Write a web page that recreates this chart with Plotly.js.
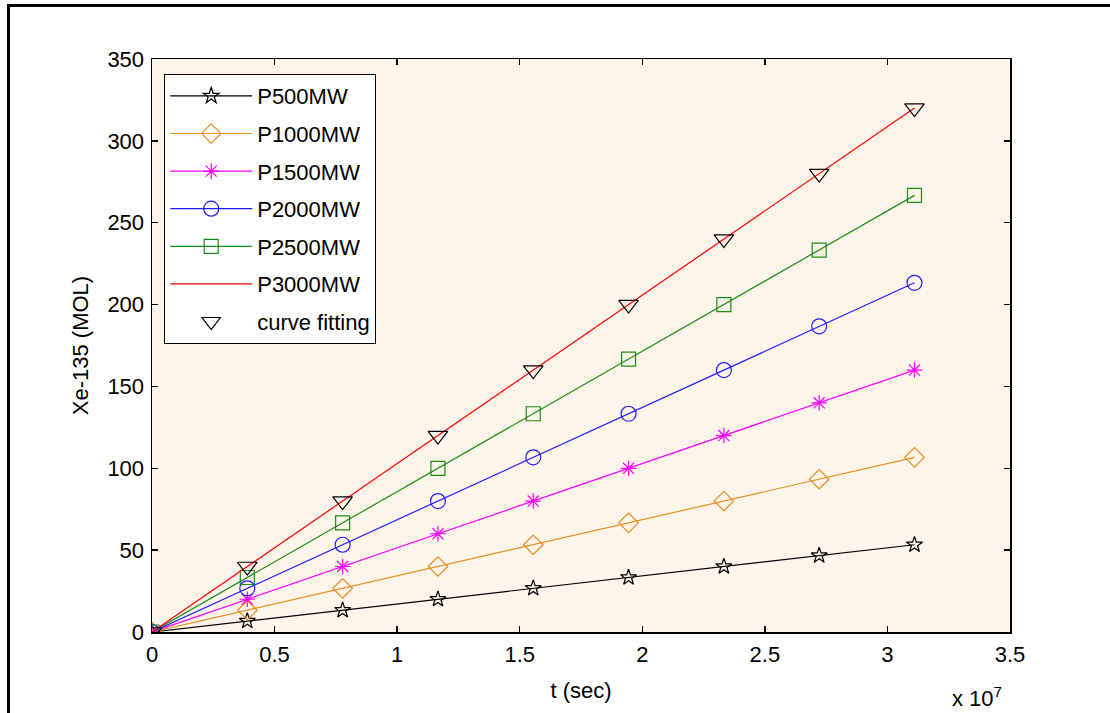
<!DOCTYPE html>
<html>
<head>
<meta charset="utf-8">
<script src="https://cdn.plot.ly/plotly-3.0.1.min.js"></script>
<style>
  html, body { margin: 0; padding: 0; background: #fff; }
  #chart { width: 1110px; height: 713px; position: relative; }
  #frame { position: absolute; left: 7px; top: 4px; width: 1200px; height: 800px; border: 3px solid #000; pointer-events: none; }
  #wrap { position: relative; width: 1110px; height: 713px; overflow: hidden; }
</style>
</head>
<body>
<div id="wrap">
  <div id="chart"></div>
  <div id="frame"></div>
</div>
<script>
// time points in seconds (every 45 days)
const tSec = [0, 3888000, 7776000, 11664000, 15552000, 19440000, 23328000, 27216000, 31104000];
const p500  = [0, 6.7, 13.3, 20.0, 26.7, 33.3, 40.0, 46.7, 53.3];
const p1000 = [0, 13.3, 26.7, 40.0, 53.3, 66.7, 80.0, 93.3, 106.7];
const p1500 = [0, 20.0, 40.0, 60.0, 80.0, 100.0, 120.0, 140.0, 160.0];
const p2000 = [0, 26.7, 53.3, 80.0, 106.7, 133.3, 160.0, 186.7, 213.3];
const p2500 = [0, 33.3, 66.7, 100.0, 133.3, 166.7, 200.0, 233.3, 266.7];
const p3000 = [0, 40.0, 80.0, 120.0, 160.0, 200.0, 240.0, 280.0, 320.0];
const fitY  = [0, 40.0, 80.0, 120.0, 160.0, 200.0, 240.0, 280.0, 320.0];

const seriesNames = ['P500MW', 'P1000MW', 'P1500MW', 'P2000MW', 'P2500MW', 'P3000MW', 'curve fitting'];
const xTickVals = [0, 5e6, 1e7, 1.5e7, 2e7, 2.5e7, 3e7, 3.5e7];
const xTickText = ['0', '0.5', '1', '1.5', '2', '2.5', '3', '3.5'];
const yTickVals = [0, 50, 100, 150, 200, 250, 300, 350];

const FONT = 'Liberation Sans, Arial, sans-serif';
const FS = 22;

function lineTrace(name, y, color, symbol, size, group) {
  const t = {
    x: tSec, y: y, name: name, type: 'scatter',
    mode: symbol ? 'lines+markers' : 'lines',
    line: { color: color, width: 1.2 },
    legendgroup: group
  };
  if (symbol) t.marker = { symbol: symbol, size: size, color: color, line: { color: color, width: 1.2 } };
  return t;
}

const data = [
  lineTrace(seriesNames[0], p500, '#000000', 'star-open', 12, 'g1'),
  lineTrace(seriesNames[1], p1000, '#E88E22', 'diamond-open', 15, 'g2'),
  lineTrace(seriesNames[2], p1500, '#FF00FF', 'asterisk-open', 13, 'g3'),
  lineTrace(seriesNames[3], p2000, '#1F1FFF', 'circle-open', 15, 'g4'),
  lineTrace(seriesNames[4], p2500, '#1A8C1A', 'square-open', 14, 'g5'),
  lineTrace(seriesNames[5], p3000, '#FF0000', null, 0, 'g6'),
  {
    x: tSec, y: fitY, name: seriesNames[6], type: 'scatter', mode: 'markers',
    marker: { symbol: 'triangle-down-open', size: 17, color: '#000', line: { color: '#000', width: 1.2 } },
    legendgroup: 'g7'
  }
];

const axisCommon = {
  showgrid: false, zeroline: false, showline: true, linecolor: '#000', linewidth: 1.5,
  mirror: 'ticks', ticks: 'inside', ticklen: 6, tickcolor: '#000', tickwidth: 1.5,
  tickfont: { family: FONT, size: FS, color: '#000' }
};

const layout = {
  width: 1110, height: 713,
  margin: { l: 152, r: 100, t: 59, b: 81 },
  paper_bgcolor: 'rgba(0,0,0,0)',
  plot_bgcolor: '#FDF5EA',
  font: { family: FONT, color: '#000' },
  xaxis: Object.assign({}, axisCommon, {
    range: [0, 3.5e7], tickmode: 'array', tickvals: xTickVals, ticktext: xTickText,
    ticklabelstandoff: 2,
    title: { text: 't (sec)', font: { family: FONT, size: FS }, standoff: 16 }
  }),
  yaxis: Object.assign({}, axisCommon, {
    range: [0, 350], tickmode: 'array', tickvals: yTickVals,
    ticklabelstandoff: 2,
    title: { text: 'Xe-135 (MOL)', font: { family: FONT, size: FS }, standoff: 12 }
  }),
  showlegend: true,
  legend: {
    x: 0.014, y: 0.974, xanchor: 'left', yanchor: 'top',
    bgcolor: '#FFFFFF', bordercolor: '#000', borderwidth: 1.2,
    font: { family: FONT, size: FS, color: '#000' },
    traceorder: 'grouped', tracegroupgap: 6, itemwidth: 82
  },
  annotations: [{
    xref: 'paper', yref: 'paper', x: 0.9615, y: -0.142, xanchor: 'center', yanchor: 'bottom',
    text: 'x 10<sup>7</sup>', showarrow: false, font: { family: FONT, size: FS, color: '#000' }
  }]
};

Plotly.newPlot('chart', data, layout, { displayModeBar: false, staticPlot: true });
</script>
</body>
</html>
